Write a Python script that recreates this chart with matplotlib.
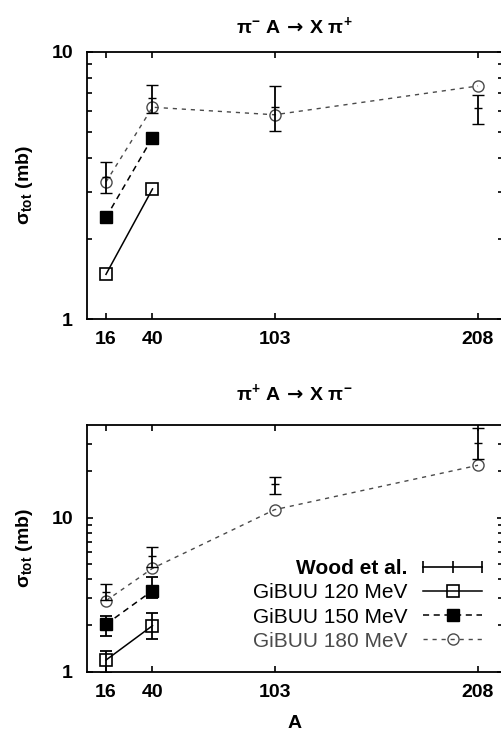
"""Total pion double-charge-exchange cross sections vs. target mass number."""

import matplotlib

matplotlib.use("Agg")
import matplotlib.pyplot as plt
from matplotlib.legend_handler import HandlerLine2D
from matplotlib.lines import Line2D
from matplotlib.ticker import FixedLocator, NullFormatter


# mass numbers of the targets
A_ALL = [16, 40, 103, 208]
A_LIGHT = [16, 40]

# pi- A -> X pi+  (mb)
WOOD_TOP = [3.41, 6.71, 6.24, 6.15]
WOOD_TOP_LO = [2.97, 5.89, 5.05, 5.37]
WOOD_TOP_HI = [3.88, 7.54, 7.48, 6.92]
GIBUU120_TOP = [1.47, 3.07]
GIBUU150_TOP = [2.40, 4.78]
GIBUU180_TOP = [3.26, 6.21, 5.82, 7.46]

# pi+ A -> X pi-  (mb)
WOOD_BOT = [3.28, 5.64, 16.5, 30.7]
WOOD_BOT_LO = [2.92, 4.76, 14.3, 23.9]
WOOD_BOT_HI = [3.71, 6.48, 18.3, 38.1]
GIBUU120_BOT = [1.19, 1.99]
GIBUU120_BOT_LO = [0.98, 1.63]
GIBUU120_BOT_HI = [1.36, 2.39]
GIBUU150_BOT = [2.03, 3.36]
GIBUU150_BOT_LO = [1.71, 3.00]
GIBUU150_BOT_HI = [2.31, 4.10]
GIBUU180_BOT = [2.89, 4.69, 11.27, 21.9]

GREY = "#4a4a4a"
FS = 14

plt.rcParams.update({
    "font.family": ["Liberation Sans", "DejaVu Sans"],
    "font.weight": "bold",
    "axes.labelweight": "bold",
    "axes.titleweight": "bold",
    "mathtext.fontset": "custom",
    "mathtext.rm": "Liberation Sans:bold",
    "mathtext.it": "Liberation Sans:bold",
    "mathtext.bf": "Liberation Sans:bold",
    "mathtext.sf": "DejaVu Sans",
    "axes.linewidth": 1.3,
})


def asym(vals, lo, hi):
    return [[v - l for v, l in zip(vals, lo)], [h - v for v, h in zip(vals, hi)]]


def style_axes(ax, ylim, minor):
    ax.set_yscale("log")
    ax.set_xlim(6.2, 220.9)
    ax.set_ylim(*ylim)
    ax.xaxis.set_major_locator(FixedLocator(A_ALL))
    ax.set_xticklabels([str(a) for a in A_ALL])
    ax.yaxis.set_major_locator(FixedLocator([1, 10]))
    ax.set_yticklabels(["1", "10"])
    ax.yaxis.set_minor_locator(FixedLocator(minor))
    ax.yaxis.set_minor_formatter(NullFormatter())
    ax.xaxis.set_minor_locator(FixedLocator([]))
    ax.tick_params(which="both", direction="in", top=True, right=True, width=1.2,
                   labelsize=FS)
    ax.tick_params(which="major", length=4.5)
    ax.tick_params(which="minor", length=3.5)
    ax.tick_params(axis="x", pad=9)
    ax.tick_params(axis="y", pad=10)
    ax.set_ylabel(r"$\sigma_{\mathrm{tot}}$ (mb)", fontsize=FS)
    ax.yaxis.set_label_coords(-0.125, 0.5)


def draw_models(ax, g120, g150, g180):
    ax.plot(A_LIGHT, g120, color="black", lw=1.1, marker="s", ms=8, mfc="none",
            mec="black", mew=1.2)
    ax.plot(A_LIGHT, g150, color="black", lw=1.1, ls=(0, (4, 3)), marker="s", ms=8,
            mfc="black", mec="black")
    ax.plot(A_ALL, g180, color=GREY, lw=1.0, ls=(0, (3, 3.5)), marker="o", ms=8,
            mfc="none", mec=GREY, mew=1.0)


def draw_wood(ax, vals, lo, hi):
    ax.errorbar(A_ALL, vals, yerr=asym(vals, lo, hi), fmt="_", color="black", ms=6,
                mew=1.0, elinewidth=1.3, capsize=4, capthick=1.3)


fig = plt.figure(figsize=(5.01, 7.32), dpi=100)
ax_top = fig.add_axes([87 / 501, 1 - 319 / 732, 416 / 501, 267 / 732])
ax_bot = fig.add_axes([87 / 501, 1 - 671.7 / 732, 416 / 501, 246.7 / 732])

# upper panel
draw_models(ax_top, GIBUU120_TOP, GIBUU150_TOP, GIBUU180_TOP)
draw_wood(ax_top, WOOD_TOP, WOOD_TOP_LO, WOOD_TOP_HI)
style_axes(ax_top, (1, 10), [2, 3, 4, 5, 6, 7, 8, 9])
ax_top.set_title(r"$\pi^{-}\ \mathrm{A}\,\mathsf{\rightarrow}\,\mathrm{X}\ \pi^{+}$",
                 fontsize=FS, pad=14)

# lower panel
draw_models(ax_bot, GIBUU120_BOT, GIBUU150_BOT, GIBUU180_BOT)
ax_bot.errorbar(A_LIGHT, GIBUU120_BOT, yerr=asym(GIBUU120_BOT, GIBUU120_BOT_LO, GIBUU120_BOT_HI),
                fmt="none", ecolor="black", elinewidth=1.3, capsize=4, capthick=1.3)
ax_bot.errorbar(A_LIGHT, GIBUU150_BOT, yerr=asym(GIBUU150_BOT, GIBUU150_BOT_LO, GIBUU150_BOT_HI),
                fmt="none", ecolor="black", elinewidth=1.3, capsize=4, capthick=1.3)
draw_wood(ax_bot, WOOD_BOT, WOOD_BOT_LO, WOOD_BOT_HI)
style_axes(ax_bot, (1, 40), [2, 3, 4, 5, 6, 7, 8, 9, 20, 30])
ax_bot.set_title(r"$\pi^{+}\ \mathrm{A}\,\mathsf{\rightarrow}\,\mathrm{X}\ \pi^{-}$",
                 fontsize=FS, pad=18)
ax_bot.set_xlabel("A", fontsize=FS, labelpad=10)

# legend: label on the left, sample on the right
wood_handle = Line2D([], [], color="black", lw=1.2, marker="|", ms=8, mew=1.2)
h120 = Line2D([], [], color="black", lw=1.1, marker="s", ms=8, mfc="none", mew=1.2)
h150 = Line2D([], [], color="black", lw=1.1, ls=(0, (4, 3)), marker="s", ms=8, mfc="black")
h180 = Line2D([], [], color=GREY, lw=1.0, ls=(0, (3, 3.5)), marker="o", ms=8, mfc="none",
              mec=GREY)
leg = ax_bot.legend(
    [wood_handle, h120, h150, h180],
    ["Wood et al.", "GiBUU 120 MeV", "GiBUU 150 MeV", "GiBUU 180 MeV"],
    loc="lower right", bbox_to_anchor=(0.95, 0.085), frameon=False, markerfirst=False,
    numpoints=1, handlelength=2.85, handletextpad=0.72, labelspacing=0.25,
    borderpad=0, borderaxespad=0, fontsize=15,
    handler_map={wood_handle: HandlerLine2D(numpoints=3, marker_pad=0)},
)
for i, text in enumerate(leg.get_texts()):
    text.set_fontweight("bold" if i == 0 else "normal")
leg.get_texts()[3].set_color(GREY)

fig.savefig("out.png", dpi=100)
